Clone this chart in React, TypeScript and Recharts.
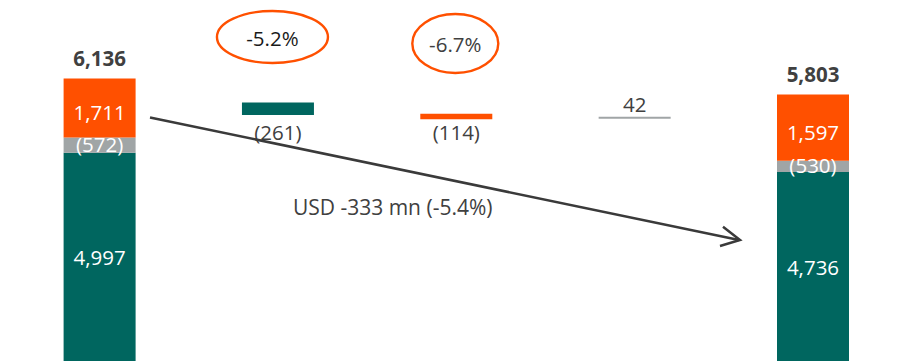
import React from 'react';
import { BarChart, Bar, XAxis, YAxis, LabelList } from 'recharts';

// bridge steps, left to right
const steps = ['Start', 'Step 1', 'Step 2', 'Step 3', 'End'];

// drawn segment extents (USD mn)
const floatBase = [0, 5372, 5286, 5298, 0];
const tealSeg = [4586, 261, 0, 0, 4185];
const graySeg = [321, 0, 0, 42, 235];
const orangeSeg = [1229, 0, 114, 0, 1383];

// printed figures
const tealValues = [4997, -261, null, null, 4736];
const grayValues = [-572, null, null, 42, -530];
const orangeValues = [1711, null, -114, null, 1597];
const totals = [6136, null, null, null, 5803];
const changes = [null, '-5.2%', '-6.7%', null, null];
const bridgeText = 'USD -333 mn (-5.4%)';

const TEAL = '#00665F';
const ORANGE = '#FF5000';
const GRAY = '#A0A5A6';
const DARK = '#404040';
const FONT = '"Open Sans", sans-serif';
const FS = 20.5;

const data = steps.map((s, i) => ({
  name: s,
  base: floatBase[i],
  teal: tealSeg[i],
  gray: graySeg[i],
  orange: orangeSeg[i],
}));

const fmt = (v: number) =>
  v < 0 ? `(${Math.abs(v).toLocaleString('en-US')})` : v.toLocaleString('en-US');

// ellipse call-outs above the floating steps
const badge: Record<number, { dx: number; cy: number; rx: number; ry: number; base: number; color: string }> = {
  1: { dx: -5.5, cy: 37, rx: 55.5, ry: 26, base: 46, color: '#1a1a1a' },
  2: { dx: -1, cy: 43.5, rx: 43, ry: 29.5, base: 52, color: DARK },
};

const insideShift: Record<string, number> = { teal: 2, gray: 7, orange: 12 };
const belowShift: Record<string, number> = { teal: 25, orange: 21, gray: 21 };

// LabelList gets the step name as value, so the index is looked up from it
const makeLabel = (values: (number | null)[], kind: string) => (props: any) => {
  const { x, y, width, height, value } = props;
  const index = steps.indexOf(String(value));
  if (index < 0) return null;
  const v = values[index];
  if (v == null) return null;
  const cx = Number(x) + Number(width) / 2;
  const top = Number(y);
  const h = Number(height);
  const out: React.ReactNode[] = [];

  if (floatBase[index] === 0) {
    out.push(
      <text key="v" x={cx} y={top + h / 2 + insideShift[kind]} textAnchor="middle" fill="#fff" fontSize={FS} fontFamily={FONT}>
        {fmt(v)}
      </text>
    );
    if (kind === 'orange' && totals[index] != null) {
      out.push(
        <text key="t" x={cx} y={top - 12.6} textAnchor="middle" fill={DARK} fontSize={FS} fontWeight="bold" fontFamily={FONT}>
          {fmt(totals[index] as number)}
        </text>
      );
    }
  } else {
    const ty = v > 0 ? top - 5 : top + h + belowShift[kind];
    out.push(
      <text key="v" x={cx} y={ty} textAnchor="middle" fill={DARK} fontSize={FS} fontFamily={FONT}>
        {fmt(v)}
      </text>
    );
    const b = badge[index];
    if (changes[index] && b) {
      out.push(
        <g key="b">
          <ellipse cx={cx + b.dx} cy={b.cy} rx={b.rx} ry={b.ry} fill="none" stroke={ORANGE} strokeWidth={2.4} />
          <text x={cx + b.dx} y={b.base} textAnchor="middle" fill={b.color} fontSize={FS} fontFamily={FONT}>
            {changes[index]}
          </text>
        </g>
      );
    }
  }
  return <g>{out}</g>;
};

export default function App() {
  return (
    <div style={{ position: 'absolute', left: 0, top: 0, width: 899, height: 361, overflow: 'hidden', background: '#fff' }}>
      <BarChart
        width={910}
        height={373}
        data={data}
        margin={{ top: 0, right: 7.65, bottom: 0, left: 10.6 }}
        barSize={72}
      >
        <XAxis dataKey="name" hide />
        <YAxis hide domain={[0, 7770]} />
        <Bar dataKey="base" stackId="s" fill="transparent" isAnimationActive={false} />
        <Bar dataKey="teal" stackId="s" fill={TEAL} isAnimationActive={false}>
          <LabelList dataKey="name" content={makeLabel(tealValues, 'teal')} />
        </Bar>
        <Bar dataKey="gray" stackId="s" fill={GRAY} isAnimationActive={false}>
          <LabelList dataKey="name" content={makeLabel(grayValues, 'gray')} />
        </Bar>
        <Bar dataKey="orange" stackId="s" fill={ORANGE} isAnimationActive={false}>
          <LabelList dataKey="name" content={makeLabel(orangeValues, 'orange')} />
        </Bar>
      </BarChart>
      <svg width={899} height={361} style={{ position: 'absolute', left: 0, top: 0, pointerEvents: 'none' }}>
        <line x1={150} y1={117.5} x2={739} y2={240} stroke="#3a3a3a" strokeWidth={2.5} />
        <polyline points="723,226.7 740,240 720,246" fill="none" stroke="#3a3a3a" strokeWidth={2.5} />
        <text x={392.7} y={215} textAnchor="middle" fill={DARK} fontSize={21} fontFamily={FONT}>
          {bridgeText}
        </text>
      </svg>
    </div>
  );
}
